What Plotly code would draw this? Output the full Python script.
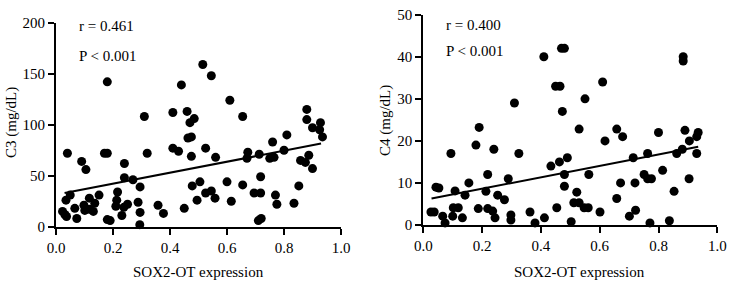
import plotly.graph_objects as go

# ---- Data ----
c3_x = [0.18, 0.31, 0.41, 0.44, 0.46, 0.47, 0.485, 0.515, 0.545, 0.61, 0.655, 0.463, 0.475, 0.76, 0.81,
        0.88, 0.88, 0.90, 0.928, 0.925, 0.935,
        0.04, 0.09, 0.105, 0.17, 0.18, 0.24, 0.24, 0.27, 0.32, 0.41, 0.43, 0.475, 0.478, 0.505, 0.525,
        0.56, 0.495, 0.525, 0.545, 0.558, 0.45, 0.60, 0.615, 0.655, 0.67, 0.673, 0.713, 0.718, 0.695,
        0.718, 0.71, 0.72, 0.75, 0.765, 0.77, 0.775, 0.80, 0.835, 0.852, 0.858, 0.875, 0.887, 0.90,
        0.023, 0.031, 0.037, 0.035, 0.05, 0.066, 0.073, 0.098, 0.101, 0.117, 0.117, 0.131, 0.136, 0.151,
        0.18, 0.19, 0.216, 0.213, 0.21, 0.231, 0.238, 0.251, 0.288, 0.295, 0.295, 0.294, 0.358, 0.377]
c3_y = [142, 108, 112, 139, 113, 102, 106, 159, 148, 124, 108, 87, 88, 83, 90,
        115, 105, 97, 102, 95, 88,
        72, 64, 56, 72, 72, 62, 48, 46, 72, 77, 74, 69, 40, 44, 77,
        68, 26, 33, 35, 28, 18, 44, 25, 41, 67, 73, 71, 49, 33,
        33, 6, 8, 67, 68, 31, 22, 75, 23, 40, 65, 63, 70, 57,
        15, 12, 10, 26, 31, 18, 8, 21, 16, 28, 17, 15, 23, 31,
        7, 6, 34, 26, 20, 11, 19, 22, 24, 39, 14, 2, 21, 13]

c4_x = [0.19, 0.31, 0.41, 0.47, 0.48, 0.45, 0.465, 0.473, 0.55, 0.61, 0.53, 0.658, 0.678, 0.618, 0.80,
        0.884, 0.884, 0.89, 0.905, 0.935, 0.93,
        0.026, 0.037, 0.043, 0.053, 0.066, 0.074, 0.094, 0.10, 0.102, 0.108, 0.119, 0.133, 0.142, 0.155,
        0.179, 0.187, 0.213, 0.219, 0.219, 0.24, 0.236, 0.244, 0.253, 0.276, 0.289, 0.298, 0.298, 0.325,
        0.363, 0.38, 0.412, 0.434, 0.454, 0.463, 0.48, 0.48, 0.49, 0.503, 0.512, 0.522, 0.53, 0.547,
        0.561, 0.563, 0.601, 0.658, 0.671, 0.701, 0.714, 0.72, 0.722, 0.751, 0.763, 0.763, 0.776, 0.771,
        0.814, 0.837, 0.853, 0.862, 0.881, 0.904, 0.93]
c4_y = [23.2, 29, 40, 42, 42, 33, 33, 27, 30, 34, 22.8, 22.8, 21, 20, 22,
        40, 39, 22.5, 20, 22, 21,
        3.1, 3.1, 9, 8.8, 2.1, 0.5, 17, 2.1, 4.1, 8.1, 4.1, 1.7, 7.1, 10,
        19, 3.9, 8, 12, 3.9, 18, 3.3, 1.7, 7.1, 6, 11, 2.4, 1.2, 17,
        3.1, 0.5, 1.7, 14, 4.1, 15, 12, 9.2, 16, 0.8, 5.3, 7.8, 5.3, 4.1,
        4.1, 12, 3.1, 6.3, 10, 2.1, 16, 10, 3.5, 12, 17, 11, 11, 0.5,
        13, 1, 8, 17, 18, 11, 17]

# regression lines (endpoints)
fit_c3_x = [0.03, 0.93]
fit_c3_y = [33, 81.5]
fit_c4_x = [0.028, 0.935]
fit_c4_y = [6.3, 18.6]

x_ticks = [0.0, 0.2, 0.4, 0.6, 0.8, 1.0]
c3_ticks = [0, 50, 100, 150, 200]
c4_ticks = [0, 10, 20, 30, 40, 50]

x_title = "SOX2-OT expression"
c3_title = "C3 (mg/dL)"
c4_title = "C4 (mg/dL)"
c3_stats = ["r = 0.461", "P < 0.001"]
c4_stats = ["r = 0.400", "P < 0.001"]

FONT = "Liberation Serif, Times New Roman, serif"
FS = 15
W, H = 733, 283

fig = go.Figure()
marker = dict(color="black", size=9, line=dict(width=0))
fig.add_trace(go.Scatter(x=c3_x, y=c3_y, mode="markers", marker=marker, xaxis="x", yaxis="y",
                         cliponaxis=False, showlegend=False))
fig.add_trace(go.Scatter(x=fit_c3_x, y=fit_c3_y, mode="lines", line=dict(color="black", width=2),
                         xaxis="x", yaxis="y", showlegend=False))
fig.add_trace(go.Scatter(x=c4_x, y=c4_y, mode="markers", marker=marker, xaxis="x2", yaxis="y2",
                         cliponaxis=False, showlegend=False))
fig.add_trace(go.Scatter(x=fit_c4_x, y=fit_c4_y, mode="lines", line=dict(color="black", width=2),
                         xaxis="x2", yaxis="y2", showlegend=False))

axis_common = dict(showline=True, linecolor="black", linewidth=2, ticks="outside", ticklen=6,
                   tickwidth=2, tickcolor="black", showgrid=False, zeroline=False, automargin=False,
                   tickfont=dict(family=FONT, size=FS, color="black"))

fig.update_layout(
    width=W, height=H,
    margin=dict(l=0, r=0, t=0, b=0),
    paper_bgcolor="white", plot_bgcolor="white",
    font=dict(family=FONT, size=FS, color="black"),
    xaxis=dict(domain=[56 / W, 341 / W], range=[0, 1], tickvals=x_ticks, tickformat=".1f",
               anchor="y", **axis_common),
    yaxis=dict(domain=[(H - 226.7) / H, (H - 22.7) / H], range=[0, 200], tickvals=c3_ticks,
               anchor="x", **axis_common),
    xaxis2=dict(domain=[423.3 / W, 717.3 / W], range=[0, 1], tickvals=x_ticks, tickformat=".1f",
                anchor="y2", **axis_common),
    yaxis2=dict(domain=[(H - 225) / H, (H - 14.7) / H], range=[0, 50], tickvals=c4_ticks,
                anchor="x2", **axis_common),
)

txt = dict(family=FONT, size=FS, color="black")
# axis titles
fig.add_annotation(text=x_title, xref="paper", yref="paper", x=198 / W, y=(H - 272) / H,
                   xanchor="center", yanchor="middle", showarrow=False, font=txt)
fig.add_annotation(text=x_title, xref="paper", yref="paper", x=579 / W, y=(H - 272) / H,
                   xanchor="center", yanchor="middle", showarrow=False, font=txt)
fig.add_annotation(text=c3_title, xref="paper", yref="paper", x=11 / W, y=(H - 123) / H,
                   xanchor="center", yanchor="middle", textangle=-90, showarrow=False, font=txt)
fig.add_annotation(text=c4_title, xref="paper", yref="paper", x=385 / W, y=(H - 121) / H,
                   xanchor="center", yanchor="middle", textangle=-90, showarrow=False, font=txt)
# statistics
for t, yy in zip(c3_stats, [26, 56]):
    fig.add_annotation(text=t, xref="paper", yref="paper", x=77 / W, y=(H - yy) / H, xanchor="left",
                       yanchor="middle", showarrow=False, font=txt)
for t, yy in zip(c4_stats, [25, 51]):
    fig.add_annotation(text=t, xref="paper", yref="paper", x=444 / W, y=(H - yy) / H, xanchor="left",
                       yanchor="middle", showarrow=False, font=txt)

fig.write_html(
    "out.html",
    config={"displayModeBar": False},
    post_script="document.documentElement.style.margin='0';document.body.style.margin='0';"
                "document.body.style.padding='0';document.body.style.overflow='hidden';",
)
